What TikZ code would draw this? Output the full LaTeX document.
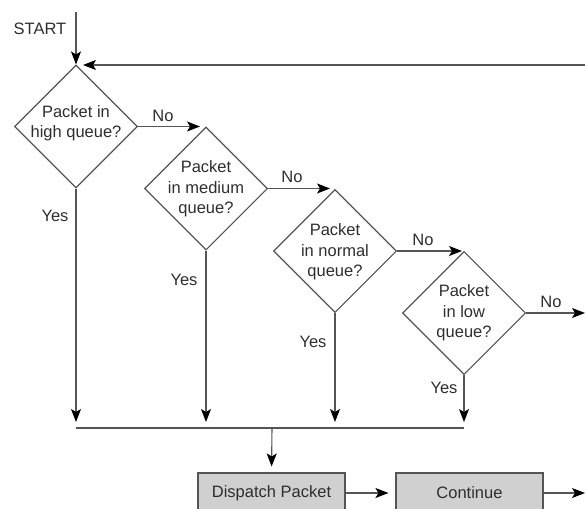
\documentclass[tikz,border=0pt]{standalone}
\usepackage{fontspec}
\setmainfont{Liberation Sans}
\usetikzlibrary{shapes.geometric,arrows.meta}
\definecolor{linegray}{HTML}{555555}
\definecolor{textgray}{HTML}{2E2E2E}
\definecolor{boxfill}{HTML}{D0D0D0}
\begin{document}
\begin{tikzpicture}[x=1pt,y=-1pt,
  font=\fontsize{16.5}{20.5}\selectfont, text=textgray,
  dia/.style={diamond, draw=linegray, line width=1.1pt, minimum width=123pt,
              minimum height=123pt, inner sep=0pt, aspect=1},
  qtext/.style={align=center, inner sep=0pt},
  procbox/.style={rectangle, draw=linegray, line width=1.1pt, fill=boxfill,
                  minimum width=147pt, minimum height=40pt, inner sep=0pt},
  flow/.style={draw=linegray, line width=1.1pt,
               -{Stealth[length=13pt,width=10pt,inset=3pt,fill=black,color=black]}},
  plain/.style={draw=linegray, line width=1.1pt},
  lbl/.style={inner sep=0pt}]
\useasboundingbox (0,0) rectangle (585,508);
\clip (0,0) rectangle (585,508);

% decision diamonds
\node[dia] (d1) at (76,126.5) {};
\node[dia] (d2) at (206,188.5) {};
\node[dia] (d3) at (335,251) {};
\node[dia] (d4) at (464,313) {};
\node[qtext] (t1) at (76,123) {Packet in\\high queue?};
\node[qtext] (t2) at (206,189) {Packet\\in medium\\queue?};
\node[qtext] (t3) at (335,252) {Packet\\in normal\\queue?};
\node[qtext] (t4) at (464,313) {Packet\\in low\\queue?};

% process boxes
\node[procbox] (disp) at (271.5,493) {Dispatch Packet};
\node[procbox] (cont) at (469.5,493) {Continue};

% free ends
\coordinate (start) at (76,12);
\coordinate (loopin) at (585,65);
\coordinate (loopend) at (83,65);
\coordinate (lowout) at (585,313);
\coordinate (contout) at (585,493);
\coordinate (m1) at (76,428);
\coordinate (m2) at (206,428);
\coordinate (m3) at (335,428);
\coordinate (m4) at (464,428);
\coordinate (mj) at (272,428);

% entry and loop-back
\draw[flow] (start) -- (d1.north);
\draw[flow] (loopin) -- (loopend);

% "No" branches
\draw[flow, shorten >=6pt] (d1.east) -- (d1.east -| d2.north);
\draw[flow, shorten >=5pt] (d2.east) -- (d2.east -| d3.north);
\draw[flow, shorten >=2pt] (d3.east) -- (d3.east -| d4.north);
\draw[flow] (d4.east) -- (lowout);

% "Yes" branches into the merge line
\draw[flow, shorten >=6pt] (d1.south) -- (m1);
\draw[flow, shorten >=6pt] (d2.south) -- (m2);
\draw[flow, shorten >=6pt] (d3.south) -- (m3);
\draw[flow, shorten >=6pt] (d4.south) -- (m4);
\draw[plain] (m1) -- (m4);
\draw[flow, shorten >=6pt] (mj) -- (disp.north);

% dispatch and continue
\draw[flow, shorten >=7pt] (disp.east) -- (cont.west);
\draw[flow] (cont.east) -- (contout);

% labels
\node[lbl] (lstart) at (40,28.5) {START};
\node[lbl] (n1) at (163,116) {No};
\node[lbl] (n2) at (292,177) {No};
\node[lbl] (n3) at (423,240) {No};
\node[lbl] (n4) at (551,302) {No};
\node[lbl] (y1) at (55,216) {Yes};
\node[lbl] (y2) at (184,280) {Yes};
\node[lbl] (y3) at (313,342) {Yes};
\node[lbl] (y4) at (444,388) {Yes};
\end{tikzpicture}
\end{document}
